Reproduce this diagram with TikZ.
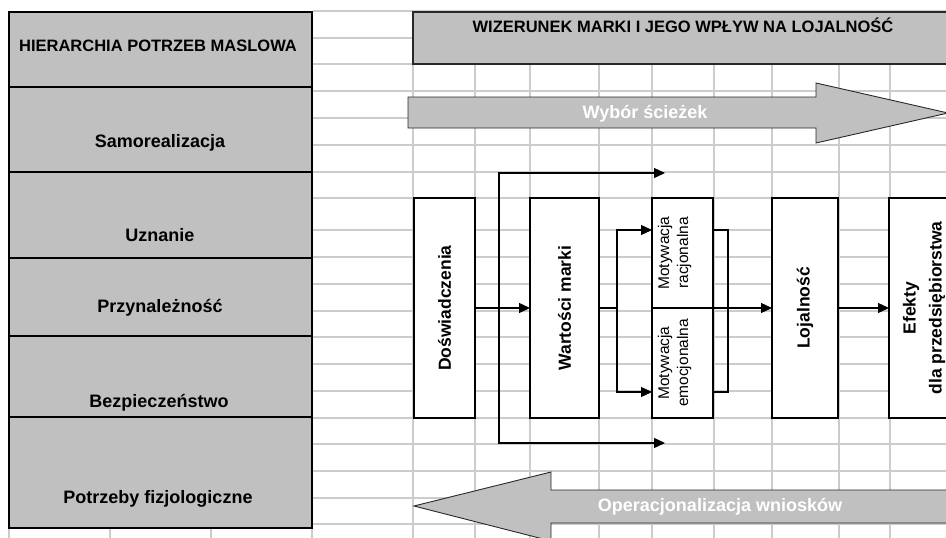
\documentclass[tikz,border=0pt]{standalone}
\usepackage{fontspec}
\setmainfont{Liberation Sans}
\usetikzlibrary{arrows.meta,calc}
\definecolor{cellgray}{RGB}{192,192,192}
\definecolor{gridgray}{RGB}{204,204,204}
\definecolor{edgegray}{RGB}{40,40,40}

\begin{document}
\begin{tikzpicture}[x=1pt,y=-1pt,>={Triangle[length=11pt,width=10pt]},
  box/.style={draw=black,line width=1.3pt,fill=white,inner sep=0pt,outer sep=0pt,
              minimum height=220pt},
  half/.style={box,minimum width=61pt,minimum height=110pt},
  vlabel/.style={rotate=90,align=center,font=\bfseries\fontsize{17.5}{26}\selectfont},
  mlabel/.style={rotate=90,align=center,font=\fontsize{15.5}{19}\selectfont},
  need/.style={inner sep=0pt,text height=13pt,text depth=0pt,
               font=\bfseries\fontsize{18}{22}\selectfont},
  heading/.style={inner sep=0pt,text height=12pt,text depth=0pt,
                  font=\bfseries\fontsize{16.5}{20}\selectfont},
  banner/.style={draw=edgegray,line width=0.9pt,fill=cellgray},
  bannertext/.style={need,text=white},
  link/.style={line width=1.3pt,draw=black}]
  \clip (0,0) rectangle (946,538);
  \fill[white] (0,0) rectangle (946,538);
  % spreadsheet grid
  \foreach \gy in {11,38,64,91,118,145,172,198,230,257,284,311,337,364,391,418,444,471,498,524}
    \draw[gridgray,line width=1.1pt] (313,\gy) -- (946,\gy);
  \foreach \gx in {413,475,530,599,652,714,772,839,890}
    \draw[gridgray,line width=1.1pt] (\gx,11) -- (\gx,538);
  \foreach \gx in {9,110,211,312}
    \draw[gridgray,line width=1.1pt] (\gx,528) -- (\gx,538);

  % Maslow column
  \draw[fill=cellgray,line width=1.3pt] (9,12) rectangle (312,528);
  \foreach \dy in {87,172,258,336,417}
    \draw[line width=1.3pt] (9,\dy) -- (312,\dy);
  \node[heading] (hier) at (158,45)  {HIERARCHIA POTRZEB MASLOWA};
  \node[need]    (samo) at (160,141) {Samorealizacja};
  \node[need]    (uzn)  at (160,235) {Uznanie};
  \node[need]    (przy) at (160,306) {Przynależność};
  \node[need]    (bezp) at (159,401) {Bezpieczeństwo};
  \node[need]    (fizj) at (158,497) {Potrzeby fizjologiczne};

  % title and the two wide arrows
  \draw[fill=cellgray,draw=edgegray,line width=1.3pt] (413,12) rectangle (960,64);
  \node[heading] (title) at (683,26) {WIZERUNEK MARKI I JEGO WPŁYW NA LOJALNOŚĆ};
  \draw[banner] (408,97) -- (816,97) -- (816,83) -- (948,113) -- (816,143)
    -- (816,128) -- (408,128) -- cycle;
  \node[bannertext] (wybor) at (645,112) {Wybór ścieżek};
  \draw[banner] (414,506) -- (551,472) -- (551,490) -- (960,490) -- (960,523)
    -- (551,523) -- (551,541) -- cycle;
  \node[bannertext] (oper) at (720,505) {Operacjonalizacja wniosków};

  % flow boxes
  \node[box,minimum width=61pt] (dosw) at (444.5,308) {};
  \node[box,minimum width=69pt] (wart) at (564.5,308) {};
  \node[half] (racj) at (682.5,253) {};
  \node[half] (emoc) at (682.5,363) {};
  \node[box,minimum width=66pt] (loj)  at (805,308) {};
  \node[box,minimum width=70pt] (efek) at (924,308) {};
  \node[vlabel] (dosw-t) at (dosw) {Doświadczenia};
  \node[vlabel] (wart-t) at (wart) {Wartości marki};
  \node[mlabel] (racj-t) at ($(racj)+(-8,0)$) {Motywacja\\racjonalna};
  \node[mlabel] (emoc-t) at ($(emoc)+(-8,0)$) {Motywacja\\emocjonalna};
  \node[vlabel] (loj-t)  at (loj)  {Lojalność};
  \node[vlabel] (efek-t) at (efek) {Efekty\\dla przedsiębiorstwa};

  % connectors
  \coordinate (fkTop)  at (499,173);
  \coordinate (fkBot)  at (499,443);
  \coordinate (endTop) at (665,173);
  \coordinate (endBot) at (665,443);
  \draw[link,<->] (endTop) -- (fkTop) -- (fkBot) -- (endBot);
  \draw[link,->] (dosw) -- (wart);
  \draw[link] (wart.east) -- ++(18,0) coordinate (fkMot);
  \draw[link,<->] ($(racj.north west)+(0,32)$) -| (fkMot)
    |- ($(emoc.south west)+(0,-26)$);
  \draw[link] ($(racj.north east)+(0,32)$) -- ++(15,0)
    |- ($(emoc.south east)+(0,-26)$);
  \draw[link,->] (racj.south east) -- (racj.south east -| loj.west);
  \draw[link,->] (loj) -- (efek);
\end{tikzpicture}
\end{document}
